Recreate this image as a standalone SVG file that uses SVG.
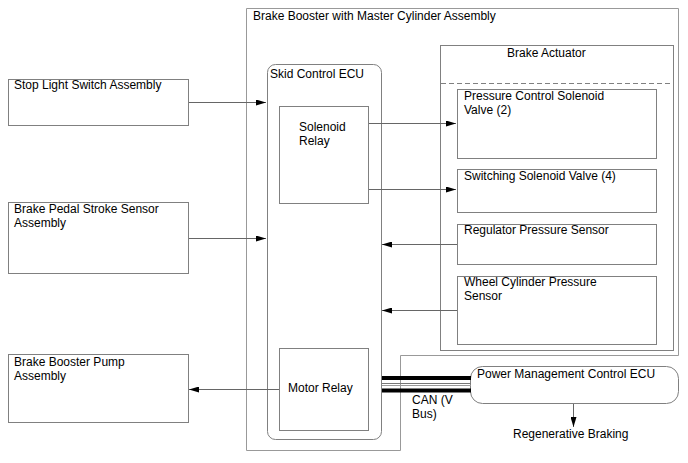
<svg xmlns="http://www.w3.org/2000/svg" width="688" height="463" viewBox="0 0 688 463">
<defs>
<style>
text{font-family:"Liberation Sans",Arial,sans-serif;font-size:12px;fill:#000}
.box{fill:#fff;stroke:#808080;stroke-width:1}
.outer{fill:none;stroke:#999;stroke-width:1}
.ln{fill:none;stroke:#666;stroke-width:1}
.dash{fill:none;stroke:#808080;stroke-width:1;stroke-dasharray:5,3}
</style>
<marker id="ah" markerWidth="10" markerHeight="6" refX="10" refY="3" orient="auto" markerUnits="userSpaceOnUse">
<path d="M0,0 L10,3 L0,6 Z" fill="#000"/>
</marker>
</defs>
<rect width="688" height="463" fill="#fff"/>

<g id="brake-booster">
<path class="outer" d="M246.5,8.5 H678.5 V355.5 H400.5 V450.5 H246.5 Z"/>
<text x="253" y="20">Brake Booster with Master Cylinder Assembly</text>
</g>

<g id="brake-actuator">
<rect class="box" x="440.5" y="45.5" width="233" height="305"/>
<line class="dash" x1="441" y1="83.5" x2="673" y2="83.5"/>
<text x="507" y="57">Brake Actuator</text>
</g>

<g id="pcsv">
<rect class="box" x="457.5" y="89.5" width="199" height="69"/>
<text x="464" y="100">Pressure Control Solenoid</text>
<text x="464" y="114">Valve (2)</text>
</g>

<g id="ssv">
<rect class="box" x="457.5" y="169.5" width="199" height="43"/>
<text x="464" y="180">Switching Solenoid Valve (4)</text>
</g>

<g id="rps">
<rect class="box" x="457.5" y="224.5" width="199" height="40"/>
<text x="464" y="234">Regulator Pressure Sensor</text>
</g>

<g id="wcps">
<rect class="box" x="457.5" y="276.5" width="199" height="68"/>
<text x="464" y="286">Wheel Cylinder Pressure</text>
<text x="464" y="300">Sensor</text>
</g>

<g id="skid-ecu">
<rect class="box" x="267.5" y="64.5" width="114" height="375" rx="8" ry="8"/>
<text x="270" y="78">Skid Control ECU</text>
</g>

<g id="solenoid-relay">
<rect class="box" x="279.5" y="106.5" width="89" height="97"/>
<text x="299" y="131">Solenoid</text>
<text x="299" y="145">Relay</text>
</g>

<g id="motor-relay">
<rect class="box" x="279.5" y="348.5" width="89" height="82"/>
<text x="288" y="392">Motor Relay</text>
</g>

<g id="stop-light">
<rect class="box" x="8.5" y="79.5" width="180" height="46"/>
<text x="14" y="89">Stop Light Switch Assembly</text>
</g>

<g id="pedal-sensor">
<rect class="box" x="8.5" y="202.5" width="180" height="71"/>
<text x="14" y="213">Brake Pedal Stroke Sensor</text>
<text x="14" y="227">Assembly</text>
</g>

<g id="pump">
<rect class="box" x="8.5" y="354.5" width="180" height="68"/>
<text x="14" y="366">Brake Booster Pump</text>
<text x="14" y="380">Assembly</text>
</g>

<g id="pm-ecu">
<rect class="box" x="470.5" y="366.5" width="208" height="37" rx="12" ry="12"/>
<text x="477" y="378">Power Management Control ECU</text>
</g>

<g id="regen">
<text x="513" y="438">Regenerative Braking</text>
</g>

<g id="can-label">
<text x="412" y="404">CAN (V</text>
<text x="412" y="418">Bus)</text>
</g>

<g id="connectors">
<line class="ln" x1="189" y1="102.5" x2="266" y2="102.5" marker-end="url(#ah)"/>
<line class="ln" x1="189" y1="238.5" x2="266" y2="238.5" marker-end="url(#ah)"/>
<line class="ln" x1="369" y1="123.5" x2="456" y2="123.5" marker-end="url(#ah)"/>
<line class="ln" x1="369" y1="189.5" x2="456" y2="189.5" marker-end="url(#ah)"/>
<line class="ln" x1="457" y1="244.5" x2="382" y2="244.5" marker-end="url(#ah)"/>
<line class="ln" x1="457" y1="310.5" x2="382" y2="310.5" marker-end="url(#ah)"/>
<line class="ln" x1="279" y1="389.5" x2="189" y2="389.5" marker-end="url(#ah)"/>
<line class="ln" x1="573.5" y1="404" x2="573.5" y2="427" marker-end="url(#ah)"/>
<g id="can-bus">
<line x1="382" y1="378" x2="471" y2="378" stroke="#000" stroke-width="4"/>
<line x1="382" y1="383.5" x2="471" y2="383.5" stroke="#777" stroke-width="1"/>
<line x1="382" y1="385.5" x2="471" y2="385.5" stroke="#999" stroke-width="1"/>
<line x1="382" y1="390.5" x2="471" y2="390.5" stroke="#000" stroke-width="4"/>
</g>
</g>
</svg>
